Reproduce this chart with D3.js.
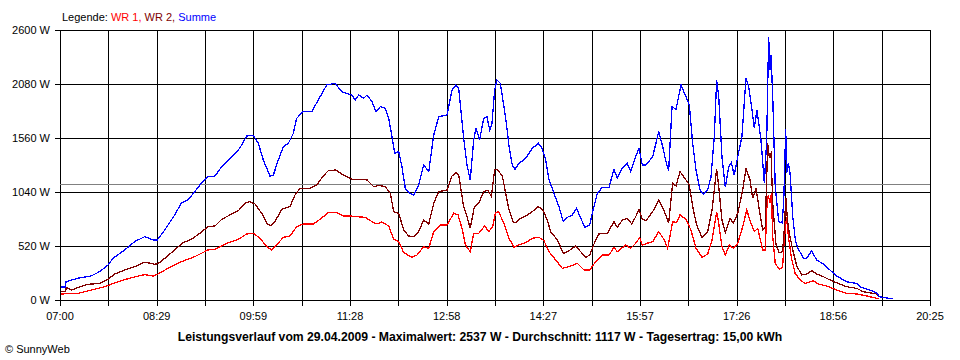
<!DOCTYPE html>
<html><head><meta charset="utf-8">
<script src="https://cdn.jsdelivr.net/npm/d3@7"></script>
<style>
html,body{margin:0;padding:0;background:#fff;}
svg{display:block;}
text{font-family:"Liberation Sans",Arial,sans-serif;}
</style></head>
<body><svg id="c" width="960" height="360"></svg>
<script>
// minutes after 07:00
const xTickLabels = ["07:00","08:29","09:59","11:28","12:58","14:27","15:57","17:26","18:56","20:25"];
const yTicks = [0,520,1040,1560,2080,2600];
const average = 1117;
const titleText = "Leistungsverlauf vom 29.04.2009 - Maximalwert: 2537 W - Durchschnitt: 1117 W - Tagesertrag: 15,00 kWh";

const tSum = [0.6,4.6,5.6,17.3,28.7,36.7,44.4,49.0,59.9,69.1,78.4,86.1,90.0,96.9,106.1,112.2,118.4,124.6,130.7,137.0,143.4,149.6,155.7,165.0,168.1,172.7,178.9,183.5,188.1,194.3,197.4,202.0,206.6,211.3,215.9,219.0,225.1,232.9,239.0,246.8,254.5,260.7,266.8,270.2,273.2,276.4,281.0,284.1,288.7,292.4,296.4,301.0,304.1,307.2,309.7,313.4,316.4,319.5,322.6,327.3,331.9,336.5,341.2,345.8,350.4,358.1,362.7,366.4,368.9,373.5,376.6,379.6,382.8,384.9,388.3,392.0,395.1,397.6,399.7,402.2,404.3,407.4,410.8,413.0,415.5,418.5,421.0,424.7,430.9,437.0,442.6,445.7,449.4,452.5,457.1,461.7,465.7,469.4,474.0,478.1,481.8,485.8,490.1,493.2,497.2,501.8,508.0,512.6,515.7,520.3,524.9,528.1,532.7,535.7,538.8,542.2,548.4,554.0,557.7,560.7,563.2,566.3,570.0,574.6,579.2,582.3,585.4,588.5,592.2,595.2,599.3,602.4,605.4,607.6,609.5,612.5,615.6,618.7,621.1,623.9,627.1,631.0,634.7,637.2,640.3,642.4,644.9,648.6,651.7,653.9,655.7,657.0,657.9,659.5,661.8,665.0,668.1,669.6,671.5,672.4,673.9,675.5,678.0,680.4,682.2,687.8,690.9,695.5,700.1,706.2,712.4,718.6,727.9,737.2,740.2,749.5,755.7,758.1,771.0];
const vSum = [125,125,176,212,231,273,337,401,482,562,610,578,578,674,819,931,963,1043,1124,1187,1194,1284,1348,1444,1492,1579,1586,1509,1348,1194,1204,1348,1476,1509,1605,1750,1814,1814,1926,2071,2087,2006,1984,1974,1926,1974,1942,1974,1910,1814,1862,1846,1750,1573,1412,1428,1284,1075,1033,1011,1107,1300,1236,1589,1765,1782,2022,2071,2039,1557,1300,1156,1541,1653,1541,1750,1765,1637,1701,2022,2119,2087,1862,1701,1476,1300,1259,1316,1364,1460,1509,1470,1348,1156,1027,899,754,796,819,883,787,700,722,867,1027,1085,1085,1259,1172,1268,1316,1236,1380,1460,1300,1300,1380,1621,1476,1332,1245,1862,1836,2071,1958,1878,1509,1252,1059,1017,1059,1187,1573,2119,1958,1380,1085,1284,1322,1204,1380,1573,2135,2054,1830,1653,1830,1541,1124,1541,2537,2215,2359,1958,1091,754,744,931,1645,1220,1316,1220,802,578,513,401,401,475,385,347,289,231,176,160,128,96,70,32,10];

const tWR1 = [0.6,16.7,29.0,41.4,53.7,66.0,78.4,86.1,90.7,99.9,112.2,124.6,137.0,143.4,152.7,165.0,172.7,178.9,185.1,191.3,195.9,200.5,206.6,212.8,219.0,225.1,234.4,240.6,248.2,256.0,262.1,268.3,274.8,282.5,288.7,293.3,297.9,304.1,308.8,313.4,318.0,325.7,330.3,336.5,341.2,345.8,351.9,358.1,364.3,368.3,372.0,375.1,379.6,382.8,387.4,393.0,396.7,400.4,402.8,405.3,406.2,410.8,415.5,420.1,424.7,430.9,437.0,443.2,447.8,452.5,458.7,464.8,471.0,478.6,484.9,490.1,495.7,501.8,508.0,512.6,515.7,523.4,528.1,532.7,536.4,538.8,545.0,548.4,554.0,559.2,562.3,566.9,570.6,573.7,579.2,583.8,588.5,594.0,599.3,603.3,607.6,609.5,612.5,615.6,619.3,623.0,627.1,631.7,635.4,639.4,642.4,645.6,650.2,652.6,654.2,655.4,657.0,658.2,659.5,661.8,665.5,668.6,670.1,672.3,674.1,676.9,680.2,684.8,689.3,693.9,697.0,701.7,709.4,718.6,727.9,737.2,746.4,755.7,757.8];
const vWR1 = [58,64,96,128,176,215,244,231,250,305,369,417,482,488,539,584,636,642,594,513,482,530,604,616,706,732,732,777,841,841,809,809,802,796,754,732,751,713,584,562,456,411,433,513,498,658,722,722,835,819,690,530,465,642,642,713,658,706,835,851,841,738,594,507,530,552,594,604,571,465,385,305,321,353,289,289,369,433,433,507,465,530,498,546,600,530,552,562,658,578,498,754,744,819,777,674,498,411,443,578,851,738,513,433,530,498,546,706,867,738,658,690,482,482,931,1011,931,1027,610,353,295,315,578,800,600,400,257,193,160,176,186,154,135,96,64,58,39,16,10];

const tWR2 = [0.6,5.1,5.8,10.5,17.3,25.9,36.7,44.4,50.6,59.9,69.1,76.8,81.4,87.6,90.7,96.9,106.1,113.8,121.5,129.3,137.0,143.4,149.6,157.3,165.0,171.2,175.8,180.4,186.6,191.3,195.2,198.9,205.1,212.8,217.4,222.1,231.3,237.5,243.6,248.2,255.1,260.7,266.8,270.2,276.4,284.1,290.3,294.9,301.0,305.6,308.8,313.4,318.0,322.6,327.3,331.9,336.5,341.2,345.8,350.4,358.1,362.7,366.4,368.9,373.5,376.6,379.6,383.4,387.4,392.0,396.0,399.1,402.2,404.3,406.2,409.3,412.4,415.5,419.2,421.7,426.3,432.4,437.0,442.6,446.9,450.9,454.0,460.2,465.7,471.0,477.2,481.8,486.4,490.1,494.1,498.7,506.4,512.6,515.7,520.3,524.9,529.0,532.7,535.7,538.8,542.0,545.0,548.4,554.0,559.2,563.2,566.9,570.0,573.7,579.2,582.3,585.4,589.1,594.0,599.3,603.3,607.6,609.5,612.5,615.6,619.9,623.0,627.1,631.7,634.7,638.5,640.9,644.0,647.1,650.2,652.6,654.8,656.3,657.9,659.5,662.5,665.5,668.6,670.1,671.6,673.1,674.8,678.0,681.7,686.4,691.0,695.5,700.1,706.2,712.4,720.1,727.9,737.2,743.3,755.7,756.5];
const vWR2 = [80,80,122,96,122,151,160,199,250,289,321,359,359,344,350,401,482,552,584,642,706,713,777,819,860,931,947,925,835,738,713,754,873,899,1011,1075,1075,1107,1194,1245,1252,1213,1181,1162,1162,1156,1091,1104,1091,1027,851,835,674,616,610,658,770,732,931,1043,1059,1194,1226,1204,899,802,690,899,931,1043,1059,995,1252,1259,1236,1194,1027,867,754,744,787,819,851,899,867,770,658,578,449,475,520,465,411,433,539,636,642,754,700,770,787,732,802,873,777,764,802,851,963,851,744,1124,1098,1236,1156,1107,899,722,604,658,867,1259,1091,770,648,787,738,835,1059,1268,1156,979,1075,867,674,706,1509,1380,1412,931,530,456,465,674,985,770,642,482,327,241,250,282,250,225,193,160,128,112,80,58,40];

const W = 960, H = 360;
const L = 60, R = 930, T = 30, B = 300;
const svg = d3.select("#c");
const x = d3.scaleLinear().domain([0, 805]).range([L, R]);
const y = d3.scaleLinear().domain([0, 2600]).range([B, T]);
const nInt = 18;
const vTicks = d3.range(nInt + 1).map(i => i * 805 / nInt);

const g = svg.append("g").attr("shape-rendering", "crispEdges");
g.selectAll("line.h").data(yTicks).join("line")
  .attr("x1", L - 5).attr("x2", R).attr("y1", d => Math.round(y(d)) + 0.5).attr("y2", d => Math.round(y(d)) + 0.5)
  .attr("stroke", "#000");
g.selectAll("line.v").data(vTicks).join("line")
  .attr("x1", d => Math.round(x(d)) + 0.5).attr("x2", d => Math.round(x(d)) + 0.5)
  .attr("y1", T).attr("y2", B + 6).attr("stroke", "#000");
g.append("line").attr("x1", L).attr("x2", R)
  .attr("y1", Math.round(y(average)) + 0.5).attr("y2", Math.round(y(average)) + 0.5)
  .attr("stroke", "#808080");

svg.selectAll("text.yl").data(yTicks).join("text")
  .attr("x", 50).attr("y", d => y(d) + 4).attr("text-anchor", "end")
  .attr("font-size", 11).text(d => d + " W");
svg.selectAll("text.xl").data(xTickLabels).join("text")
  .attr("x", (d, i) => x(vTicks[i * 2])).attr("y", 320).attr("text-anchor", "middle")
  .attr("font-size", 11).text(d => d);

const mk = (ts, vs) => ts.map((t, i) => [t, vs[i]]);
const line = d3.line().x(d => x(d[0])).y(d => y(d[1]));
const series = [
  {data: mk(tWR1, vWR1), color: "#ff0000"},
  {data: mk(tWR2, vWR2), color: "#800000"},
  {data: mk(tSum, vSum), color: "#0000ff"}
];
svg.selectAll("path.s").data(series).join("path")
  .attr("d", d => line(d.data)).attr("fill", "none")
  .attr("stroke", d => d.color).attr("stroke-width", 1.3)
  .attr("shape-rendering", "crispEdges");

const leg = svg.append("text").attr("x", 62).attr("y", 21).attr("font-size", 11);
leg.append("tspan").attr("fill", "#000").text("Legende: ");
leg.append("tspan").attr("fill", "#ff0000").text("WR 1, ");
leg.append("tspan").attr("fill", "#800000").text("WR 2, ");
leg.append("tspan").attr("fill", "#0000ff").text("Summe");

svg.append("text").attr("x", 480).attr("y", 341).attr("text-anchor", "middle")
  .attr("font-size", 12.2).attr("font-weight", "bold").text(titleText);
svg.append("text").attr("x", 5).attr("y", 353).attr("font-size", 11).text("\u00A9 SunnyWeb");
</script></body></html>
